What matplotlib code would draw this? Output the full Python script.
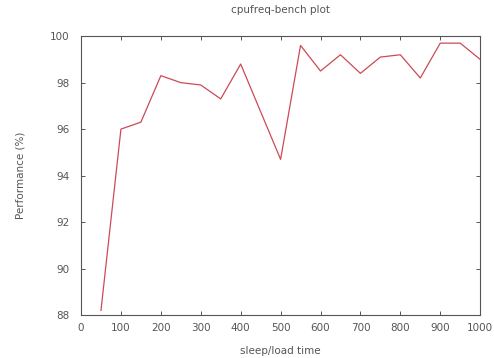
import matplotlib
matplotlib.use('Agg')
import matplotlib.pyplot as plt

# sleep/load time vs performance
sleep_load = [50, 100, 150, 200, 250, 300, 350, 400, 450, 500,
              550, 600, 650, 700, 750, 800, 850, 900, 950, 1000]
performance = [88.2, 96.0, 96.3, 98.3, 98.0, 97.9, 97.3, 98.8, 96.75, 94.7,
               99.6, 98.5, 99.2, 98.4, 99.1, 99.2, 98.2, 99.7, 99.7, 99.0]

plt.rcParams['font.family'] = ['DejaVu Sans']

fig = plt.figure(figsize=(4.94, 3.58), dpi=100)
ax = fig.add_axes([0.164, 0.120, 0.808, 0.779])

ax.plot(sleep_load, performance, color='#cc4a55', linewidth=0.9)

ax.set_xlim(0, 1000)
ax.set_ylim(88, 100)
ax.set_xticks(range(0, 1001, 100))
ax.set_yticks(range(88, 101, 2))
ax.tick_params(direction='in', top=True, right=True, labelsize=7.5,
               colors='#555555', length=3, width=0.7)
ax.tick_params(axis='y', pad=8)
ax.tick_params(axis='x', pad=6)
for s in ax.spines.values():
    s.set_color('#555555')
    s.set_linewidth(0.8)

ax.set_title('cpufreq-bench plot', fontsize=7.5, color='#555555', pad=17)
ax.set_xlabel('sleep/load time', fontsize=7.5, color='#555555', labelpad=9)
ax.set_ylabel('Performance (%)', fontsize=7.5, color='#555555', labelpad=18)

fig.savefig('out.png', dpi=100)
